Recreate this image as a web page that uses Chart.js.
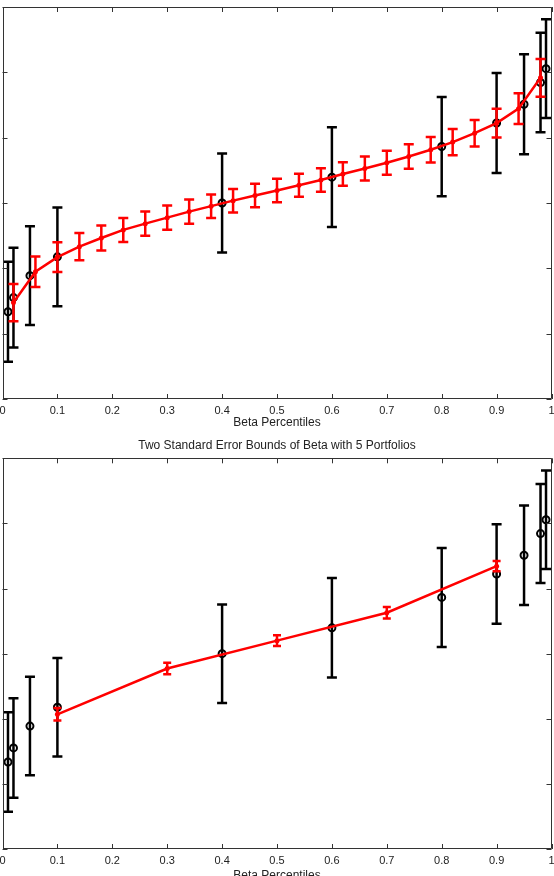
<!DOCTYPE html>
<html><head><meta charset="utf-8">
<script src="https://cdn.jsdelivr.net/npm/chart.js@4.4.0/dist/chart.umd.min.js"></script>
<style>
html,body{margin:0;padding:0;background:#fff;overflow:hidden;width:554px;height:876px;}
#c1{position:absolute;left:0;top:0;}
#c2{position:absolute;left:0;top:432px;}
</style></head><body>
<canvas id="c1" width="554" height="432"></canvas>
<canvas id="c2" width="554" height="460"></canvas>
<script>
// ---- tick labels / titles ----
const xTickValues = [0, 0.1, 0.2, 0.3, 0.4, 0.5, 0.6, 0.7, 0.8, 0.9, 1];
const xTickLabels = ['0', '0.1', '0.2', '0.3', '0.4', '0.5', '0.6', '0.7', '0.8', '0.9', '1'];
const yTickValues = [0, 0.25, 0.5, 0.75, 1, 1.25, 1.5];
const xTitle = 'Beta Percentiles';
const bottomTitle = 'Two Standard Error Bounds of Beta with 5 Portfolios';

// ---- black series: beta percentiles with 2 s.e. bounds ----
const sortX    = [0.01, 0.02, 0.05, 0.10, 0.40, 0.60, 0.80, 0.90, 0.95, 0.98, 0.99];
const sortBeta = [0.334, 0.388, 0.472, 0.544, 0.750, 0.849, 0.966, 1.056, 1.128, 1.211, 1.264];
const sortErr  = [0.191, 0.191, 0.189, 0.189, 0.189, 0.191, 0.190, 0.191, 0.191, 0.190, 0.189];

// ---- red series, top panel: 25 portfolios ----
const p25X    = [0.02, 0.06, 0.10, 0.14, 0.18, 0.22, 0.26, 0.30, 0.34, 0.38, 0.42, 0.46, 0.50,
                 0.54, 0.58, 0.62, 0.66, 0.70, 0.74, 0.78, 0.82, 0.86, 0.90, 0.94, 0.98];
const p25Beta = [0.369, 0.487, 0.543, 0.583, 0.616, 0.647, 0.671, 0.694, 0.717, 0.738, 0.759, 0.779, 0.798,
                 0.818, 0.838, 0.861, 0.882, 0.904, 0.928, 0.954, 0.983, 1.017, 1.056, 1.111, 1.229];
const p25Err  = [0.0715, 0.0585, 0.0566, 0.052, 0.048, 0.046, 0.046, 0.046, 0.046, 0.045, 0.045, 0.045, 0.045,
                 0.044, 0.045, 0.045, 0.046, 0.046, 0.047, 0.049, 0.050, 0.051, 0.055, 0.059, 0.072];

// ---- red series, bottom panel: 5 portfolios ----
const p5X    = [0.1, 0.3, 0.5, 0.7, 0.9];
const p5Beta = [0.517, 0.693, 0.800, 0.907, 1.086];
const p5Err  = [0.024, 0.022, 0.021, 0.022, 0.020];

const toPts = (xs, ys) => xs.map((x, i) => ({x: x, y: ys[i]}));

Chart.defaults.font.family = '"Liberation Sans", Arial, sans-serif';
Chart.defaults.color = '#222';

const errorBarPlugin = {
  id: 'errorBars',
  beforeDatasetDraw(chart, args) {
    const ds = chart.data.datasets[args.index];
    if (!ds.errors) return;
    const xs = chart.scales.x, ys = chart.scales.y, ctx = chart.ctx, a = chart.chartArea;
    ctx.save();
    ctx.beginPath();
    ctx.rect(a.left, a.top, a.right - a.left, a.bottom - a.top);
    ctx.clip();
    ctx.strokeStyle = ds.errColor;
    ctx.lineWidth = ds.errWidth;
    ctx.lineCap = 'butt';
    ds.data.forEach((p, i) => {
      const e = ds.errors[i];
      const px = xs.getPixelForValue(p.x);
      const yt = ys.getPixelForValue(p.y + e);
      const yb = ys.getPixelForValue(p.y - e);
      const h = ds.capHalf;
      ctx.beginPath();
      ctx.moveTo(px, yt); ctx.lineTo(px, yb);
      ctx.moveTo(px - h, yt); ctx.lineTo(px + h, yt);
      ctx.moveTo(px - h, yb); ctx.lineTo(px + h, yb);
      ctx.stroke();
    });
    ctx.restore();
  }
};

const framePlugin = {
  id: 'frame',
  afterDraw(chart) {
    const ctx = chart.ctx, a = chart.chartArea, xs = chart.scales.x, ys = chart.scales.y;
    ctx.save();
    ctx.strokeStyle = '#333';
    ctx.lineWidth = 1;
    ctx.beginPath();
    ctx.rect(Math.round(a.left) + 0.5, Math.round(a.top) + 0.5,
             Math.round(a.right - a.left) - 1, Math.round(a.bottom - a.top) - 1);
    ctx.stroke();
    const L = 5;
    ctx.beginPath();
    xTickValues.forEach(v => {
      const px = Math.round(xs.getPixelForValue(v)) + 0.5;
      ctx.moveTo(px, a.bottom); ctx.lineTo(px, a.bottom - L);
      ctx.moveTo(px, a.top); ctx.lineTo(px, a.top + L);
    });
    yTickValues.forEach(v => {
      const py = Math.round(ys.getPixelForValue(v)) + 0.5;
      ctx.moveTo(a.left, py); ctx.lineTo(a.left + L, py);
      ctx.moveTo(a.right, py); ctx.lineTo(a.right - L, py);
    });
    ctx.stroke();
    ctx.restore();
  }
};

function makeChart(canvasId, redX, redY, redErr, redCap, titleText, padding, xTitlePadTop) {
  return new Chart(document.getElementById(canvasId), {
    type: 'line',
    data: {
      datasets: [
        {
          data: toPts(redX, redY),
          errors: redErr, errColor: '#ff0000', errWidth: 2.5, capHalf: redCap,
          borderColor: '#ff0000', borderWidth: 2.5, showLine: true, tension: 0,
          pointRadius: 2.5, pointBackgroundColor: '#ff0000', pointBorderWidth: 0,
          order: 0
        },
        {
          data: toPts(sortX, sortBeta),
          errors: sortErr, errColor: '#000', errWidth: 2.5, capHalf: 5,
          showLine: false, pointStyle: 'circle', pointRadius: 3.5,
          pointBorderColor: '#000', pointBorderWidth: 2,
          pointBackgroundColor: 'rgba(0,0,0,0)',
          order: 1
        }
      ]
    },
    options: {
      responsive: false,
      animation: false,
      events: [],
      layout: { padding: padding, autoPadding: false },
      plugins: {
        legend: { display: false },
        tooltip: { enabled: false },
        title: titleText ? {
          display: true, text: titleText, color: '#222',
          font: { size: 12, weight: 'normal' },
          padding: { top: 6.5, bottom: 5.4 }
        } : { display: false }
      },
      scales: {
        x: {
          type: 'linear', min: 0, max: 1,
          afterBuildTicks: s => { s.ticks = xTickValues.map(v => ({ value: v })); },
          afterFit: s => { s.paddingLeft = 0; s.paddingRight = 0; },
          ticks: {
            autoSkip: false, maxRotation: 0, padding: 5.5,
            font: { size: 11 }, color: '#222',
            callback: (v, i) => xTickLabels[i]
          },
          grid: { display: false, drawTicks: false },
          border: { display: false },
          title: {
            display: true, text: xTitle, color: '#222',
            font: { size: 12 }, padding: { top: xTitlePadTop, bottom: 0 }
          }
        },
        y: {
          type: 'linear', min: 0, max: 1.5, display: false
        }
      }
    },
    plugins: [errorBarPlugin, framePlugin]
  });
}

makeChart('c1', p25X, p25Beta, p25Err, 5, null, { top: 7, left: 2.5, right: 2.5, bottom: 1.8 }, -7.4);
makeChart('c2', p5X, p5Beta, p5Err, 4, bottomTitle, { top: 0, left: 2.5, right: 2.5, bottom: 9.3 }, -4.9);
</script>
</body></html>
